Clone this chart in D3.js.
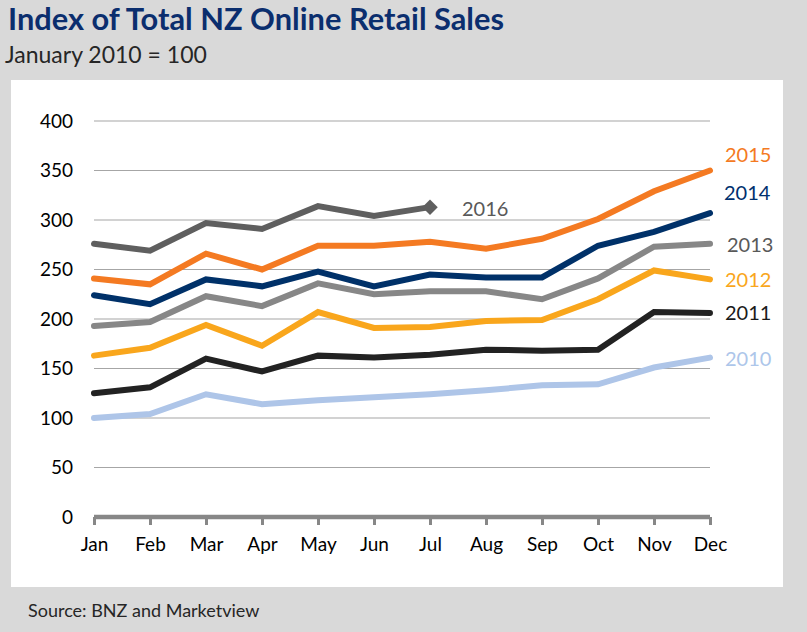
<!DOCTYPE html>
<html>
<head>
<meta charset="utf-8">
<script src="https://cdn.jsdelivr.net/npm/d3@7"></script>
<style>
  body { margin: 0; background: #d9d9d9; }
  svg { display: block; font-family: Lato, "Open Sans", sans-serif; }
</style>
</head>
<body>
<div id="chart"></div>
<script>
// data
let months = ["Jan","Feb","Mar","Apr","May","Jun","Jul","Aug","Sep","Oct","Nov","Dec"];
let yTicks = [0, 50, 100, 150, 200, 250, 300, 350, 400];

let y2010 = [100, 104, 124, 114, 118, 121, 124, 128, 133, 134, 151, 161];
let y2011 = [125, 131, 160, 147, 163, 161, 164, 169, 168, 169, 207, 206];
let y2012 = [163, 171, 194, 173, 207, 191, 192, 198, 199, 220, 249, 240];
let y2013 = [193, 197, 223, 213, 236, 225, 228, 228, 220, 241, 273, 276];
let y2014 = [224, 215, 240, 233, 248, 233, 245, 242, 242, 274, 288, 307];
let y2015 = [241, 235, 266, 250, 274, 274, 278, 271, 281, 301, 329, 350];
let y2016 = [276, 269, 297, 291, 314, 304, 313];

let years = ["2010","2011","2012","2013","2014","2015","2016"];
let seriesValues = [y2010, y2011, y2012, y2013, y2014, y2015, y2016];
let lineColors = ["#aec5e8", "#222222", "#f9a61c", "#878787", "#003169", "#f47a22", "#5f5f5f"];
let labelColors = ["#adc6ea", "#1a1a1a", "#f9a61c", "#595959", "#00306e", "#f47a22", "#595959"];

let W = 807, H = 632;

let svg = d3.select("#chart").append("svg")
    .attr("width", W)
    .attr("height", H);

svg.append("rect").attr("width", W).attr("height", H).attr("fill", "#d9d9d9");
svg.append("rect")
    .attr("x", 11).attr("y", 80)
    .attr("width", 772).attr("height", 507)
    .attr("fill", "#ffffff");

// titles
svg.append("text")
    .attr("x", 8).attr("y", 30)
    .style("font-size", "30px")
    .style("font-weight", "bold")
    .attr("fill", "#0b2e6e")
    .attr("textLength", 496)
    .attr("lengthAdjust", "spacingAndGlyphs")
    .text("Index of Total NZ Online Retail Sales");

svg.append("text")
    .attr("x", 5).attr("y", 63)
    .style("font-size", "23px")
    .attr("fill", "#262626")
    .text("January 2010 = 100");

let x = d3.scalePoint().domain(months).range([94, 710]);
let y = d3.scaleLinear().domain([0, 400]).range([517, 121]);

// gridlines
svg.append("g")
    .selectAll("line")
    .data(yTicks.filter(d => d > 0))
    .join("line")
    .attr("x1", 94).attr("x2", 710)
    .attr("y1", d => y(d)).attr("y2", d => y(d))
    .attr("stroke", "#a6a6a6")
    .attr("stroke-width", 1.2);

// y axis labels
let yAxis = svg.append("g")
    .attr("transform", "translate(78,0)")
    .call(d3.axisLeft(y).tickValues(yTicks).tickSize(0).tickPadding(5));
yAxis.select(".domain").remove();
yAxis.selectAll("text")
    .style("font-family", "Lato, sans-serif")
    .style("font-size", "19px")
    .attr("fill", "#000");

// x axis
let xAxis = svg.append("g")
    .attr("transform", "translate(0,517)")
    .call(d3.axisBottom(x).tickSize(8).tickPadding(13));
xAxis.select(".domain")
    .attr("stroke", "#878787")
    .attr("stroke-width", 4.5)
    .attr("d", "M94,0H710");
xAxis.selectAll(".tick line")
    .attr("stroke", "#878787")
    .attr("stroke-width", 3);
xAxis.selectAll("text")
    .style("font-family", "Lato, sans-serif")
    .style("font-size", "19px")
    .attr("fill", "#000");

// lines
let line = d3.line()
    .x((d, i) => x(months[i]))
    .y(d => y(d));

svg.append("g")
    .selectAll("path")
    .data(seriesValues)
    .join("path")
    .attr("d", d => line(d))
    .attr("fill", "none")
    .attr("stroke", (d, i) => lineColors[i])
    .attr("stroke-width", 6)
    .attr("stroke-linejoin", "miter")
    .attr("stroke-linecap", "round");

// 2016 end marker (square turned on its corner)
let last = y2016.length - 1;
svg.append("path")
    .attr("d", d3.symbol().type(d3.symbolSquare).size(120))
    .attr("transform", `translate(${x(months[last])},${y(y2016[last])}) rotate(45)`)
    .attr("fill", "#5f5f5f");

// series labels
let labelPos = [
  {x: 725, y: 359},
  {x: 725, y: 313},
  {x: 725, y: 280},
  {x: 727, y: 245},
  {x: 724, y: 193},
  {x: 725, y: 155},
  {x: 462, y: 209}
];
svg.append("g")
    .selectAll("text")
    .data(years)
    .join("text")
    .attr("x", (d, i) => labelPos[i].x)
    .attr("y", (d, i) => labelPos[i].y)
    .attr("dy", "0.35em")
    .style("font-size", "20px")
    .attr("fill", (d, i) => labelColors[i])
    .text(d => d);

svg.append("text")
    .attr("x", 28).attr("y", 617)
    .style("font-size", "18px")
    .attr("fill", "#262626")
    .text("Source: BNZ and Marketview");
</script>
</body>
</html>
